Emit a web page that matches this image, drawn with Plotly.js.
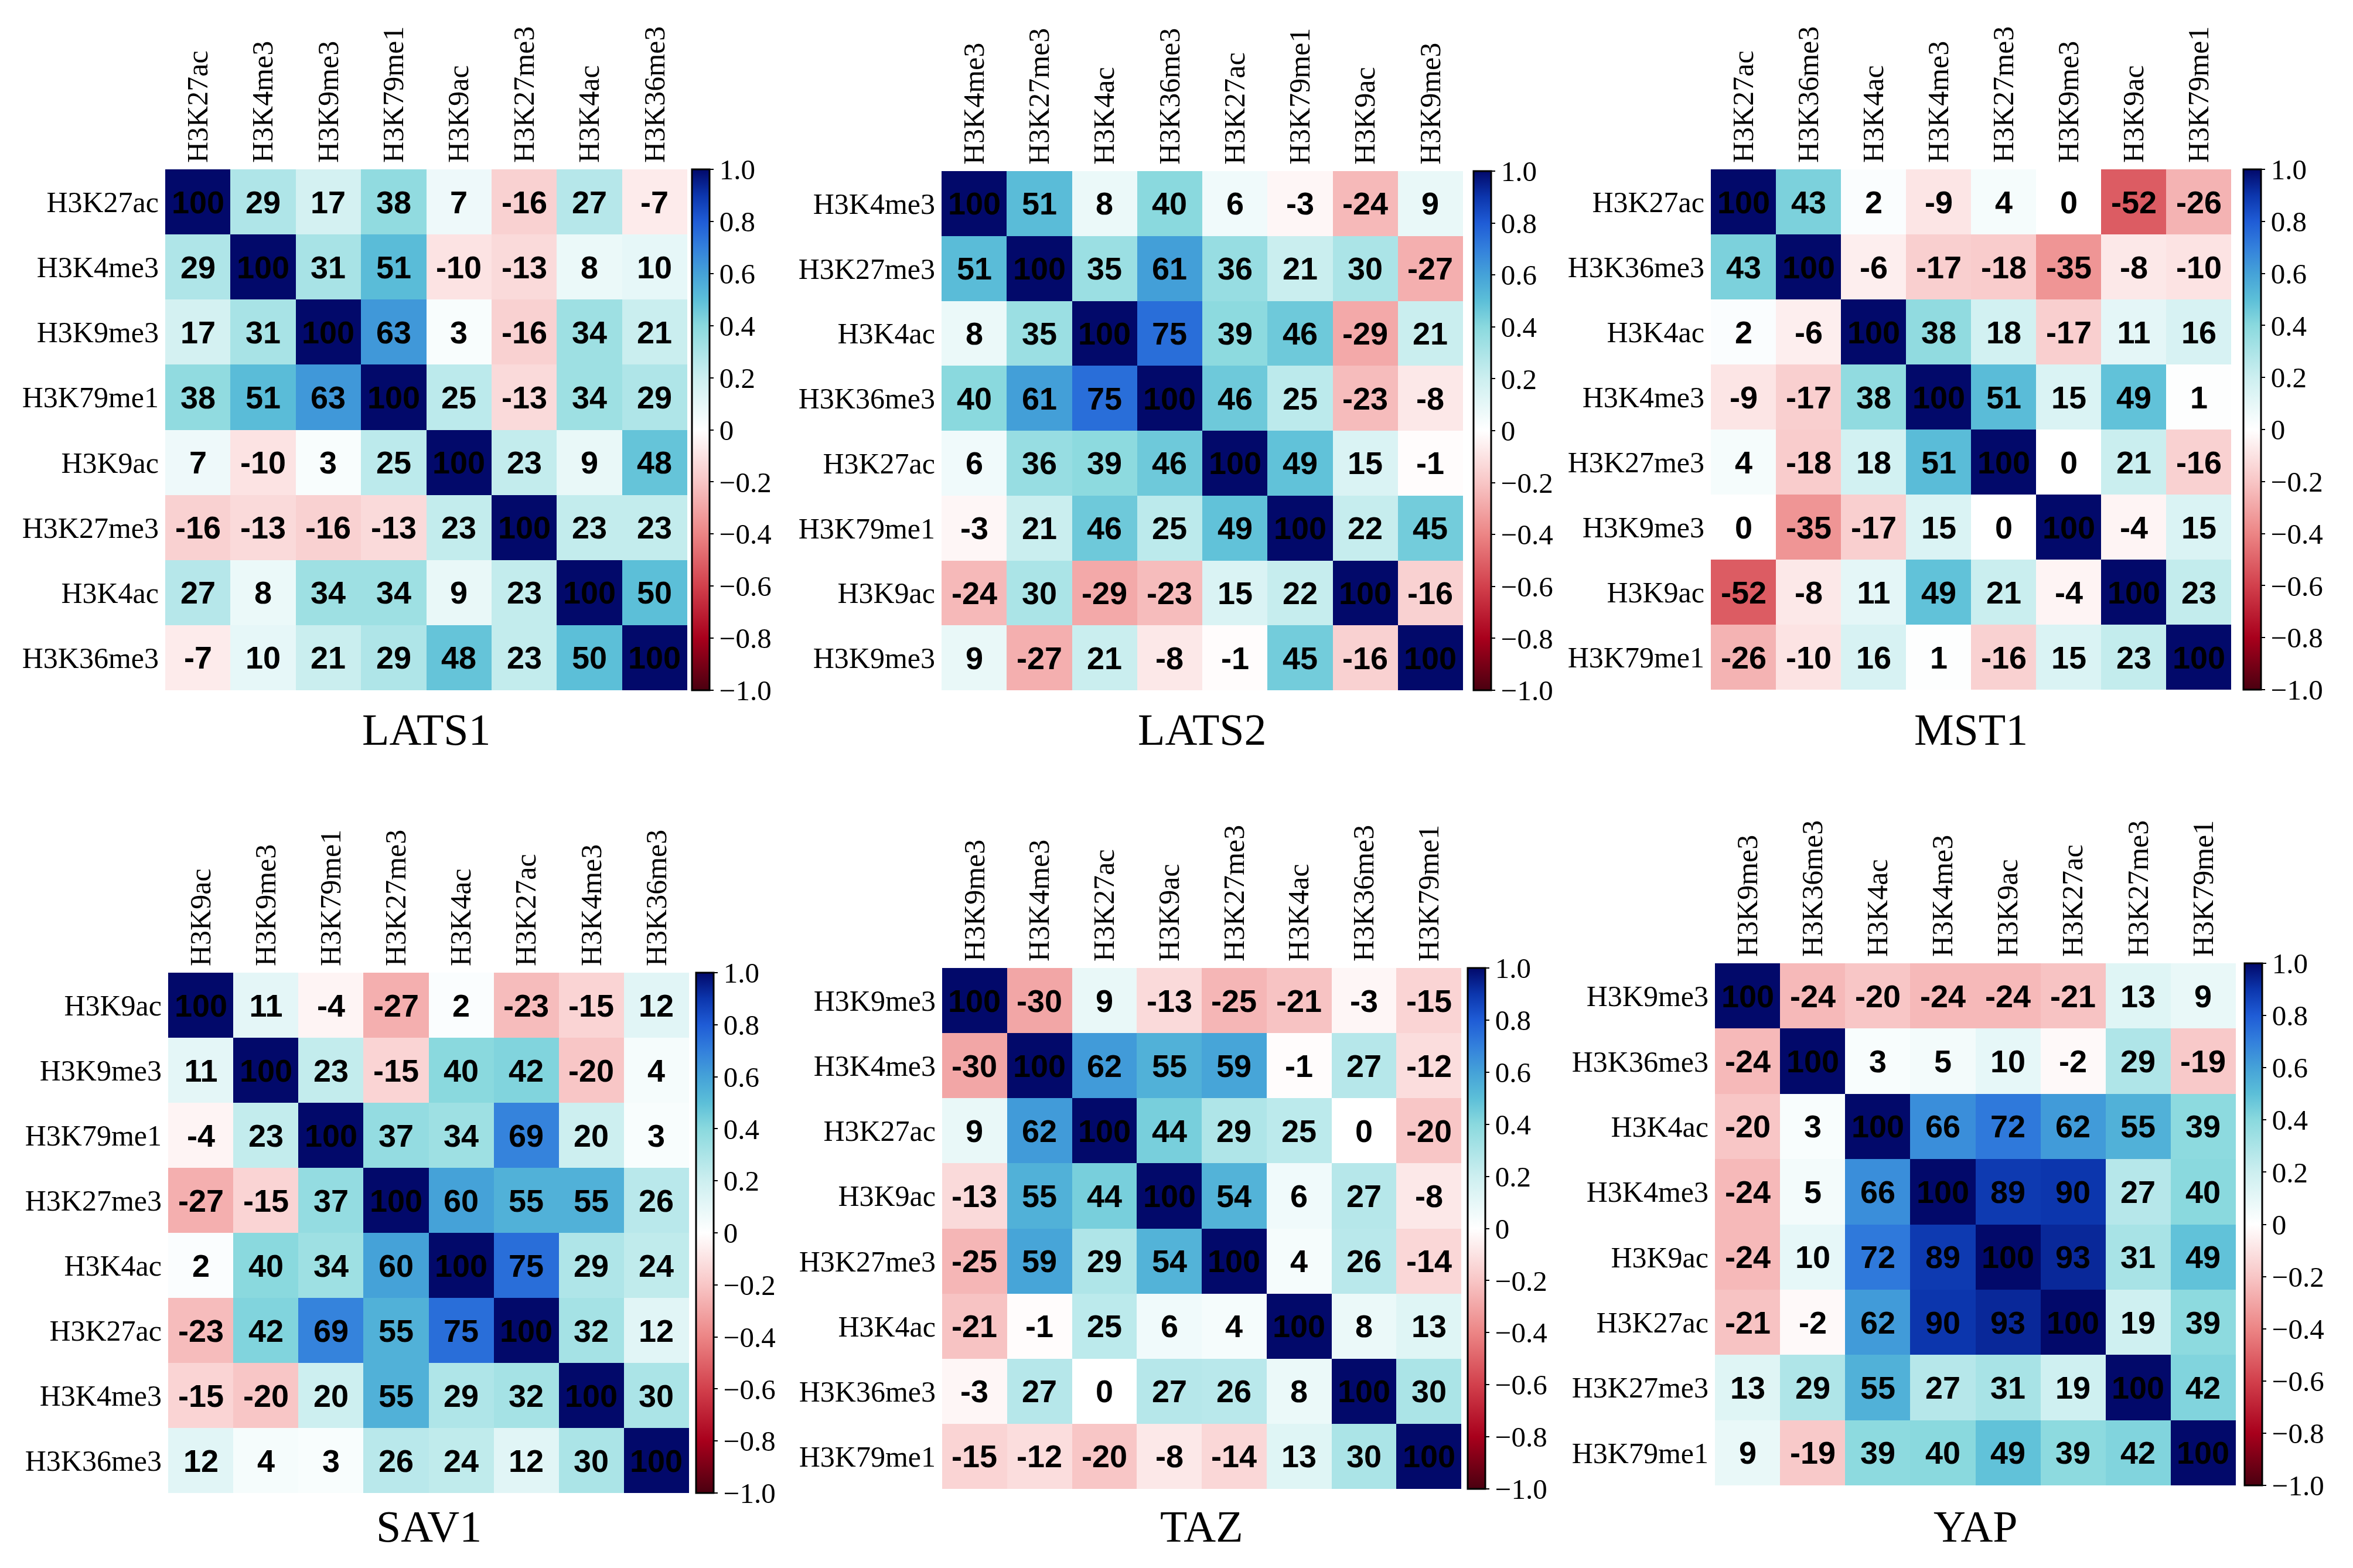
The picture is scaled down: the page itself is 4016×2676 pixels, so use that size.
<!DOCTYPE html>
<html>
<head>
<meta charset="utf-8">
<script src="https://cdn.plot.ly/plotly-3.0.1.min.js"></script>
<style>html,body{margin:0;padding:0;background:#fff;}#chart{width:4016px;height:2676px;}</style>
</head>
<body>
<div id="chart"></div>
<script>
// ---------- DATA ----------
const lats1Labels = ["H3K27ac","H3K4me3","H3K9me3","H3K79me1","H3K9ac","H3K27me3","H3K4ac","H3K36me3"];
const lats1Values = [
  [100,29,17,38,7,-16,27,-7],
  [29,100,31,51,-10,-13,8,10],
  [17,31,100,63,3,-16,34,21],
  [38,51,63,100,25,-13,34,29],
  [7,-10,3,25,100,23,9,48],
  [-16,-13,-16,-13,23,100,23,23],
  [27,8,34,34,9,23,100,50],
  [-7,10,21,29,48,23,50,100]
];
const lats2Labels = ["H3K4me3","H3K27me3","H3K4ac","H3K36me3","H3K27ac","H3K79me1","H3K9ac","H3K9me3"];
const lats2Values = [
  [100,51,8,40,6,-3,-24,9],
  [51,100,35,61,36,21,30,-27],
  [8,35,100,75,39,46,-29,21],
  [40,61,75,100,46,25,-23,-8],
  [6,36,39,46,100,49,15,-1],
  [-3,21,46,25,49,100,22,45],
  [-24,30,-29,-23,15,22,100,-16],
  [9,-27,21,-8,-1,45,-16,100]
];
const mst1Labels = ["H3K27ac","H3K36me3","H3K4ac","H3K4me3","H3K27me3","H3K9me3","H3K9ac","H3K79me1"];
const mst1Values = [
  [100,43,2,-9,4,0,-52,-26],
  [43,100,-6,-17,-18,-35,-8,-10],
  [2,-6,100,38,18,-17,11,16],
  [-9,-17,38,100,51,15,49,1],
  [4,-18,18,51,100,0,21,-16],
  [0,-35,-17,15,0,100,-4,15],
  [-52,-8,11,49,21,-4,100,23],
  [-26,-10,16,1,-16,15,23,100]
];
const sav1Labels = ["H3K9ac","H3K9me3","H3K79me1","H3K27me3","H3K4ac","H3K27ac","H3K4me3","H3K36me3"];
const sav1Values = [
  [100,11,-4,-27,2,-23,-15,12],
  [11,100,23,-15,40,42,-20,4],
  [-4,23,100,37,34,69,20,3],
  [-27,-15,37,100,60,55,55,26],
  [2,40,34,60,100,75,29,24],
  [-23,42,69,55,75,100,32,12],
  [-15,-20,20,55,29,32,100,30],
  [12,4,3,26,24,12,30,100]
];
const tazLabels = ["H3K9me3","H3K4me3","H3K27ac","H3K9ac","H3K27me3","H3K4ac","H3K36me3","H3K79me1"];
const tazValues = [
  [100,-30,9,-13,-25,-21,-3,-15],
  [-30,100,62,55,59,-1,27,-12],
  [9,62,100,44,29,25,0,-20],
  [-13,55,44,100,54,6,27,-8],
  [-25,59,29,54,100,4,26,-14],
  [-21,-1,25,6,4,100,8,13],
  [-3,27,0,27,26,8,100,30],
  [-15,-12,-20,-8,-14,13,30,100]
];
const yapLabels = ["H3K9me3","H3K36me3","H3K4ac","H3K4me3","H3K9ac","H3K27ac","H3K27me3","H3K79me1"];
const yapValues = [
  [100,-24,-20,-24,-24,-21,13,9],
  [-24,100,3,5,10,-2,29,-19],
  [-20,3,100,66,72,62,55,39],
  [-24,5,66,100,89,90,27,40],
  [-24,10,72,89,100,93,31,49],
  [-21,-2,62,90,93,100,19,39],
  [13,29,55,27,31,19,100,42],
  [9,-19,39,40,49,39,42,100]
];
const panelTitles = ["LATS1","LATS2","MST1","SAV1","TAZ","YAP"];
const colorbarTickVals = [-1,-0.8,-0.6,-0.4,-0.2,0,0.2,0.4,0.6,0.8,1];
const colorbarTickText = ["\u22121.0","\u22120.8","\u22120.6","\u22120.4","\u22120.2","0","0.2","0.4","0.6","0.8","1.0"];

// ---------- STYLE / LAYOUT ----------
const W = 4016, H = 2676;
const serif = "Liberation Serif, DejaVu Serif, serif";
const colorscale = [
  [0.0, "#4a0010"],
  [0.1, "#a8001c"],
  [0.2, "#d2404c"],
  [0.3, "#ec8585"],
  [0.4, "#f8c6c6"],
  [0.5, "#ffffff"],
  [0.6, "#cdeff0"],
  [0.7, "#8ad9de"],
  [0.75, "#5cbfd8"],
  [0.8, "#45a2d8"],
  [0.85, "#3380dc"],
  [0.9, "#1f5cd6"],
  [0.95, "#0c36ad"],
  [1.0, "#02096a"]
];
// pixel boxes [x0, x1, y0, y1] for heatmaps and colorbar boxes [x0, thickness]
const boxes = [
  {hm:[282,1173,289,1178], cb:[1181,30]},
  {hm:[1607,2497,292,1178], cb:[2515,30]},
  {hm:[2920,3808,289,1177], cb:[3829,30]},
  {hm:[287,1176,1660,2548], cb:[1188,30]},
  {hm:[1608,2494,1652,2541], cb:[2505,30]},
  {hm:[2927,3816,1644,2535], cb:[3831,30]}
];
const titleY = [1245,1245,1245,2605,2605,2605];

const panels = [
  [lats1Labels, lats1Values],
  [lats2Labels, lats2Values],
  [mst1Labels, mst1Values],
  [sav1Labels, sav1Values],
  [tazLabels, tazValues],
  [yapLabels, yapValues]
];

const data = [];
const layout = {
  width: W, height: H,
  margin: {l:0, r:0, t:0, b:0},
  paper_bgcolor: "#ffffff",
  plot_bgcolor: "#ffffff",
  showlegend: false,
  annotations: []
};

panels.forEach((p, i) => {
  const labels = p[0], vals = p[1];
  const b = boxes[i];
  const [x0, x1, y0, y1] = b.hm;
  const n = i + 1;
  const xa = n === 1 ? "x" : "x" + n;
  const ya = n === 1 ? "y" : "y" + n;
  data.push({
    type: "heatmap",
    x: labels,
    y: labels,
    z: vals.map(r => r.map(v => v / 100)),
    text: vals.map(r => r.map(v => String(v))),
    texttemplate: "%{text}",
    textfont: {family: "Liberation Sans, Arial, sans-serif", size: 54, color: "#000000", weight: "bold"},
    zmin: -1, zmax: 1,
    colorscale: colorscale,
    xaxis: xa, yaxis: ya,
    xgap: 0, ygap: 0,
    hoverinfo: "skip",
    colorbar: {
      x: b.cb[0] / W, xanchor: "left", xref: "paper",
      y: 1 - y0 / H, yanchor: "top", yref: "paper",
      len: (y1 - y0), lenmode: "pixels",
      thickness: b.cb[1], thicknessmode: "pixels",
      xpad: 0, ypad: 0,
      outlinewidth: 3, outlinecolor: "#000000",
      tickmode: "array",
      tickvals: colorbarTickVals,
      ticktext: colorbarTickText,
      ticks: "outside", ticklen: 6, tickwidth: 2, tickcolor: "#000000",
      tickfont: {family: serif, size: 49, color: "#000000"}
    }
  });
  const xk = n === 1 ? "xaxis" : "xaxis" + n;
  const yk = n === 1 ? "yaxis" : "yaxis" + n;
  layout[xk] = {
    domain: [x0 / W, x1 / W],
    anchor: ya,
    side: "top",
    tickangle: -90,
    showgrid: false, zeroline: false, showline: false,
    ticks: "", ticklabelstandoff: 10,
    tickfont: {family: serif, size: 50, color: "#000000"},
    fixedrange: true
  };
  layout[yk] = {
    domain: [1 - y1 / H, 1 - y0 / H],
    anchor: xa,
    autorange: "reversed",
    showgrid: false, zeroline: false, showline: false,
    ticks: "", ticklabelstandoff: 10,
    tickfont: {family: serif, size: 50, color: "#000000"},
    fixedrange: true
  };
  layout.annotations.push({
    text: panelTitles[i],
    xref: "paper", yref: "paper",
    x: (x0 + x1) / 2 / W, y: 1 - titleY[i] / H,
    xanchor: "center", yanchor: "middle",
    showarrow: false,
    font: {family: serif, size: 76, color: "#000000"}
  });
});

Plotly.newPlot("chart", data, layout, {displayModeBar: false, staticPlot: true});
</script>
</body>
</html>
